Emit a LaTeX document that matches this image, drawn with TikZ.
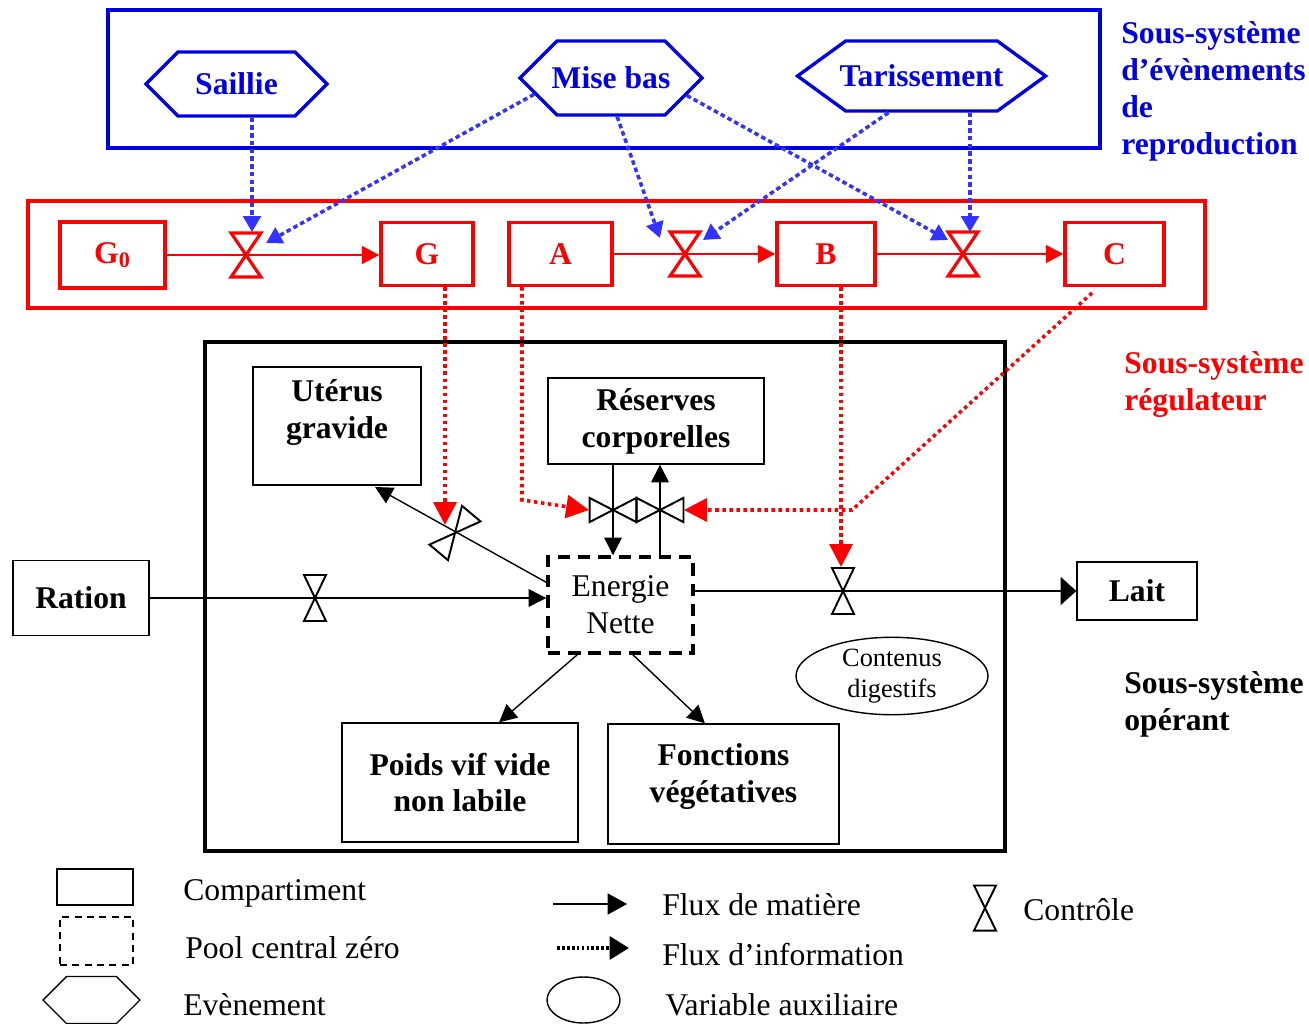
\documentclass[tikz,border=0pt]{standalone}
\usepackage{fontspec}
\setmainfont{Liberation Serif}
\usetikzlibrary{arrows.meta,shapes.symbols,shapes.geometric}
\newcommand{\lblbf}{\fontsize{18}{21}\selectfont\bfseries}
\newcommand{\lblrm}{\fontsize{18}{21}\selectfont}
\colorlet{evblue}{blue!90!black}
\colorlet{infoblue}{blue!80}
\tikzset{
  >={Triangle[length=10pt,width=10pt]},
  compbox/.style = {draw, line width=0.8pt, font=\lblbf, align=center, inner sep=0pt},
  regbox/.style = {draw=red, line width=1.9pt, text=red, font=\lblbf, inner sep=0pt},
  event/.style = {shape=signal, signal to=west and east, signal pointer angle=90,
    draw=evblue, line width=1.9pt, text=evblue, font=\lblbf, inner sep=0pt},
  matter/.style = {line width=0.8pt, ->},
  regflow/.style = {red, line width=1.7pt, ->},
  blueinfo/.style = {infoblue, line width=2pt, dash pattern=on 2.6pt off 1.8pt,
    -{Triangle[length=9pt,width=10pt]}},
  redinfo/.style = {red, line width=2pt, dash pattern=on 2pt off 2pt,
    -{Triangle[length=13pt,width=13pt]}},
  sidetext/.style = {anchor=north west, align=left, inner sep=0pt, font=\lblbf},
  legtext/.style = {anchor=base west, inner sep=0pt, font=\lblrm},
  valve/.pic = {
    \draw[line join=miter] (-11,-23) -- (11,-23) -- (-11,23) -- (11,23) -- cycle;
  }
}

\begin{document}
\begin{tikzpicture}[x=0.02cm,y=-0.02cm]
  \useasboundingbox (0,0) rectangle (1309,1024);

  \draw[evblue, line width=2pt] (108,10) rectangle (1100,148);
  \node[event, minimum width=3.62cm, minimum height=1.28cm] (saillie) at (236.5,84) {Saillie};
  \node[event, inner xsep=-3pt, minimum height=1.48cm] (misebas) at (611,78) {Mise bas};
  \node[event, inner xsep=-3.5pt, signal pointer angle=72, minimum height=1.4cm] (tariss) at (921.5,76) {Tarissement};
  \node[sidetext, text=evblue] (reprotxt) at (1121,21) {Sous-système\\d’évènements\\de\\reproduction};

  \draw[red, line width=2pt] (28,201) rectangle (1205,308);
  \node[regbox, minimum width=2.1cm, minimum height=1.32cm] (g0) at (112.5,255) {G\textsubscript{0}};
  \node[regbox, minimum width=1.84cm, minimum height=1.26cm] (g) at (427,254) {G};
  \node[regbox, minimum width=2.06cm, minimum height=1.26cm] (a) at (560.5,254) {A};
  \node[regbox, minimum width=1.96cm, minimum height=1.26cm] (b) at (826,254) {B};
  \node[regbox, minimum width=1.98cm, minimum height=1.26cm] (c) at (1114.5,254) {C};
  \node[sidetext, text=red] (regtxt) at (1124,351) {Sous-système\\régulateur};

  \coordinate (v1) at (246,255);
  \coordinate (v2) at (685,254);
  \coordinate (v3) at (963,254);
  \draw[regflow] (g0.east |- v1) -- (g.west |- v1);
  \draw[regflow] (a.east) -- (b.west);
  \draw[regflow] (b.east) -- (c.west);
  \pic[red, line width=1.8pt, xscale=1.36, yscale=0.96] at (v1) {valve};
  \pic[red, line width=1.8pt, xscale=1.36, yscale=0.96] at (v2) {valve};
  \pic[red, line width=1.8pt, xscale=1.36, yscale=0.96] at (v3) {valve};

  \coordinate (s1) at (252,232);
  \coordinate (s2) at (266,243);
  \coordinate (s3) at (660,238);
  \coordinate (s4) at (703,240);
  \coordinate (s5) at (948,240);
  \coordinate (s6) at (970,232);
  \draw[blueinfo] (saillie.south -| s1) -- (s1);
  \draw[blueinfo] (misebas.192) -- (s2);
  \draw[blueinfo] (misebas.279) -- (s3);
  \draw[blueinfo] (misebas.347) -- (s5);
  \draw[blueinfo] (tariss.228) -- (s4);
  \draw[blueinfo] (tariss.south -| s6) -- (s6);

  \draw[line width=2.6pt] (205,342) rectangle (1005,851);
  \node[compbox, minimum width=3.36cm, minimum height=2.36cm] (uterus) at (337,426) {Utérus\\gravide\\[-2pt]\mbox{}};
  \node[compbox, minimum width=4.32cm, minimum height=1.72cm] (reserves) at (656,421) {Réserves\\corporelles};
  \node[compbox, font=\lblrm, line width=2pt, dash pattern=on 7pt off 4.5pt,
    minimum width=2.9cm, minimum height=1.92cm] (energie) at (620.5,605) {Energie\\Nette};
  \node[compbox, minimum width=2.72cm, minimum height=1.5cm] (ration) at (81,598) {Ration};
  \node[compbox, minimum width=2.4cm, minimum height=1.16cm] (lait) at (1137,591) {Lait};
  \node[compbox, minimum width=4.72cm, minimum height=2.38cm] (poids) at (460,782.5) {Poids vif vide\\non labile};
  \node[compbox, minimum width=4.62cm, minimum height=2.4cm] (fonctions) at (723.5,784) {Fonctions\\végétatives\\[-9pt]\mbox{}};
  \node[draw, ellipse, line width=0.8pt, align=center, inner sep=0pt, font=\fontsize{15}{18}\selectfont,
    minimum width=3.84cm, minimum height=1.32cm] (contenus) at (892,676) {Contenus\\digestifs};
  \node[sidetext] (optxt) at (1124,671) {Sous-système\\opérant};

  \coordinate (ut) at (375,487);
  \coordinate (uv) at (455,533);
  \coordinate (rva) at (613,510);
  \coordinate (rvb) at (660,510);
  \coordinate (rv) at (315,598);
  \coordinate (lv) at (843,591);
  \draw[matter] (energie.163) -- (ut);
  \draw[matter] (reserves.south -| rva) -- (energie.north -| rva);
  \draw[matter] (energie.north -| rvb) -- (reserves.south -| rvb);
  \draw[matter] (ration.east) -- (ration.east -| energie.west);
  \draw[matter, line width=1.3pt, -{Triangle[length=9pt,width=16pt]}] (energie.east |- lait.west) -- (lait.west);
  \draw[matter] (energie.229) -- (poids.57);
  \draw[matter] (energie.284) -- (fonctions.107);
  \pic[line width=1.1pt, rotate=-40, xscale=1.1, yscale=1.1] at (uv) {valve};
  \pic[line width=1.1pt, rotate=90, yscale=1.02, xscale=1.1] at (rva) {valve};
  \pic[line width=1.1pt, rotate=90, yscale=1.02, xscale=1.1] at (rvb) {valve};
  \pic[line width=1.1pt] at (rv) {valve};
  \pic[line width=1.1pt] at (lv) {valve};

  \coordinate (gv) at (445,525);
  \coordinate (ak) at (522,500);
  \coordinate (ra) at (589,510);
  \coordinate (bv) at (841,567);
  \coordinate (ck) at (852,510);
  \coordinate (rb) at (684,510);
  \draw[redinfo] (g.south -| gv) -- (gv);
  \draw[redinfo] (a.south -| ak) -- (ak) -- (ra);
  \draw[redinfo] (b.south -| bv) -- (bv);
  \draw[redinfo] (1092,293) -- (ck) -- (rb);

  \node[draw, line width=0.8pt, minimum width=1.52cm, minimum height=0.72cm] (legcomp) at (95,887) {};
  \node[draw, line width=1.1pt, dash pattern=on 4pt off 3pt, minimum width=1.46cm, minimum height=0.96cm] (legpool) at (96.5,941) {};
  \node[shape=signal, signal to=west and east, signal pointer angle=90, draw, line width=0.8pt,
    minimum width=1.94cm, minimum height=0.94cm] (legevent) at (91.5,1000) {};
  \node[legtext] (legcomptxt) at (183,900) {Compartiment};
  \node[legtext] (legpooltxt) at (185,958) {Pool central zéro};
  \node[legtext] (legeventtxt) at (183,1015) {Evènement};

  \coordinate (lm1) at (553,904);
  \coordinate (lm2) at (627,904);
  \coordinate (li1) at (557,948);
  \coordinate (li2) at (629,948);
  \draw[matter, -{Triangle[length=11pt,width=12pt]}] (lm1) -- (lm2);
  \draw[line width=2pt, dash pattern=on 1.6pt off 1.2pt, -{Triangle[length=11pt,width=13pt]}] (li1) -- (li2);
  \node[draw, ellipse, line width=0.8pt, minimum width=1.46cm, minimum height=0.92cm] (legvar) at (583.5,1000) {};
  \node[legtext] (legmattxt) at (662,915) {Flux de matière};
  \node[legtext] (leginftxt) at (662,965) {Flux d’information};
  \node[legtext] (legvartxt) at (665,1015) {Variable auxiliaire};

  \coordinate (lc) at (985,908);
  \pic[line width=1.1pt, yscale=0.98] at (lc) {valve};
  \node[legtext] (legctltxt) at (1023,920) {Contrôle};
\end{tikzpicture}
\end{document}
